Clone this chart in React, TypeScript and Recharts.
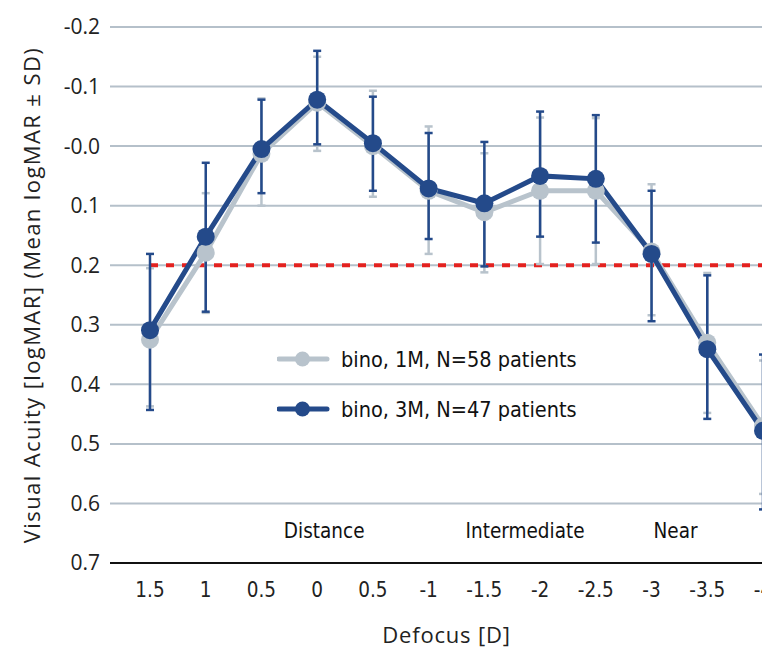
import React from "react";
import { LineChart, Line, XAxis, YAxis, CartesianGrid, ErrorBar, ReferenceLine, ReferenceDot } from "recharts";

// Defocus categories (unique keys + tick labels)
const categoryKeys = ["i0", "i1", "i2", "i3", "i4", "i5", "i6", "i7", "i8", "i9", "i10", "i11"];
const xTickLabels = ["1.5", "1", "0.5", "0", "0.5", "-1", "-1.5", "-2", "-2.5", "-3", "-3.5", "-4"];

// Y ticks
const yTicks = [-0.2, -0.1, 0, 0.1, 0.2, 0.3, 0.4, 0.5, 0.6, 0.7];
const yTickLabels = ["-0.2", "-0.1", "-0.0", "0.1", "0.2", "0.3", "0.4", "0.5", "0.6", "0.7"];

// bino, 1M (mean, upper end of SD bar, lower end of SD bar) in logMAR
const mean1M = [0.325, 0.179, 0.013, -0.073, 0.0, 0.075, 0.111, 0.075, 0.075, 0.177, 0.33, 0.47];
const top1M = [0.205, 0.079, -0.08, -0.15, -0.093, -0.033, 0.012, -0.048, -0.047, 0.064, 0.213, 0.36];
const bottom1M = [0.437, 0.28, 0.1, 0.008, 0.085, 0.181, 0.212, 0.198, 0.198, 0.284, 0.448, 0.584];

// bino, 3M
const mean3M = [0.309, 0.152, 0.005, -0.078, -0.005, 0.071, 0.096, 0.05, 0.055, 0.181, 0.341, 0.478];
const top3M = [0.181, 0.028, -0.078, -0.16, -0.083, -0.022, -0.007, -0.058, -0.052, 0.075, 0.217, 0.35];
const bottom3M = [0.443, 0.278, 0.079, -0.003, 0.075, 0.156, 0.202, 0.152, 0.162, 0.294, 0.458, 0.61];

const thresholdValue = 0.2;

const annotations = [
  { text: "Distance", at: "i3", dx: 7 },
  { text: "Intermediate", at: "i7", dx: -15 },
  { text: "Near", at: "i9", dx: 24 },
];
const annotationY = 0.647;

const seriesNames = ["bino, 1M, N=58 patients", "bino, 3M, N=47 patients"];

const DARK = "#244a8a";
const GRAY = "#b8c3cc";
const GRID = "#b5c0ca";
const RED = "#e3211f";
const SANS = "'Open Sans', 'Noto Sans', sans-serif";
const COND = "'Liberation Sans Narrow', 'DejaVu Sans Condensed', 'Roboto', sans-serif";

const data = categoryKeys.map((k, i) => ({
  key: k,
  m1: mean1M[i],
  e1: [mean1M[i] - top1M[i], bottom1M[i] - mean1M[i]],
  m3: mean3M[i],
  e3: [mean3M[i] - top3M[i], bottom3M[i] - mean3M[i]],
}));

const LegendBox = () => (
  <div style={{ position: "absolute", left: 269, top: 326, fontFamily: COND, fontSize: 21.5, color: "#111" }}>
    {[GRAY, DARK].map((c, i) => (
      <div key={i} style={{ display: "flex", alignItems: "center", height: 50 }}>
        <svg width={64} height={20} style={{ display: "block" }}>
          <line x1={2} y1={10} x2={50} y2={10} stroke={c} strokeWidth={5} strokeLinecap="round" />
          <circle cx={25.5} cy={10} r={7.5} fill={c} />
        </svg>
        <span>{seriesNames[i]}</span>
      </div>
    ))}
  </div>
);

const renderYLabel = (props: any) => {
  const vb = props.viewBox;
  const cx = vb.x + 23;
  const cy = vb.y + vb.height / 2;
  return (
    <text x={cx} y={cy} transform={`rotate(-90 ${cx} ${cy})`} textAnchor="middle" dominantBaseline="central"
      fontFamily={SANS} fontSize={22} letterSpacing={1.4} fill="#222">
      Visual Acuity [logMAR] (Mean logMAR ± SD)
    </text>
  );
};

const renderXLabel = (props: any) => {
  const vb = props.viewBox;
  const cx = vb.x + vb.width / 2 - 10;
  const cy = vb.y + 71;
  return (
    <text x={cx} y={cy} textAnchor="middle" dominantBaseline="central" fontFamily={SANS} fontSize={22} letterSpacing={0.8} fill="#222">
      Defocus [D]
    </text>
  );
};

export default function App() {
  return (
    <div style={{ position: "relative", width: 762, height: 641, overflow: "hidden", background: "#fff" }}>
      <LineChart width={800} height={641} data={data} margin={{ top: 19, right: 5, left: 0, bottom: 0 }}>
        <CartesianGrid vertical={false} stroke={GRID} strokeWidth={2} />
        <XAxis
          dataKey="key"
          padding={{ left: 40, right: 40 }}
          height={86}
          tickFormatter={(v: string) => xTickLabels[categoryKeys.indexOf(v)]}
          axisLine={{ stroke: "#111", strokeWidth: 2 }}
          tickLine={false}
          tickSize={12}
          tickMargin={7}
          interval={0}
          tick={{ fontFamily: COND, fontSize: 20.5, fill: "#222" }}
          label={renderXLabel}
        />
        <YAxis
          type="number"
          domain={[-0.2, 0.7]}
          reversed
          ticks={yTicks}
          width={102}
          axisLine={false}
          tickLine={false}
          tickSize={8}
          tickMargin={2}
          interval={0}
          tickFormatter={(v: number, i: number) => yTickLabels[i]}
          tick={{ fontFamily: SANS, fontSize: 21, fill: "#222" }}
          label={renderYLabel}
        />
        <ReferenceLine
          segment={[{ x: categoryKeys[0], y: thresholdValue }, { x: categoryKeys[categoryKeys.length - 1], y: thresholdValue }]}
          stroke={RED}
          strokeWidth={4}
          strokeDasharray="8 8"
        />
        {annotations.map((a) => (
          <ReferenceDot
            key={a.text}
            x={a.at}
            y={annotationY}
            r={0}
            fill="none"
            stroke="none"
            label={(p: any) => (
              <text x={p.viewBox.x + a.dx} y={p.viewBox.y} textAnchor="middle" dominantBaseline="central"
                fontFamily={COND} fontSize={20.5} fill="#111">
                {a.text}
              </text>
            )}
          />
        ))}
        <Line
          dataKey="m1"
          name={seriesNames[0]}
          stroke={GRAY}
          strokeWidth={5}
          dot={{ r: 9, fill: GRAY, stroke: GRAY, strokeWidth: 0 }}
          isAnimationActive={false}
        >
          <ErrorBar dataKey="e1" width={4} strokeWidth={2.5} stroke={GRAY} direction="y" />
        </Line>
        <Line
          dataKey="m3"
          name={seriesNames[1]}
          stroke={DARK}
          strokeWidth={5}
          dot={{ r: 9, fill: DARK, stroke: DARK, strokeWidth: 0 }}
          isAnimationActive={false}
        >
          <ErrorBar dataKey="e3" width={4} strokeWidth={2.5} stroke={DARK} direction="y" />
        </Line>
      </LineChart>
      <LegendBox />
    </div>
  );
}
